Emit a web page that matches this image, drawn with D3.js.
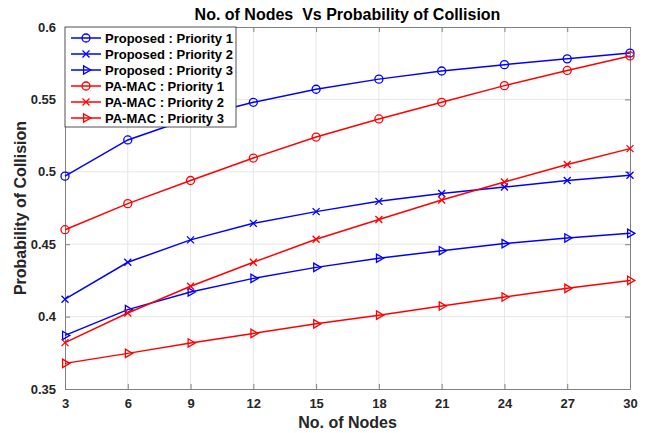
<!DOCTYPE html>
<html>
<head>
<meta charset="utf-8">
<script src="https://cdn.jsdelivr.net/npm/d3@7"></script>
<style>
  body { margin: 0; background: #fff; }
  svg { font-family: "Liberation Sans", Arial, sans-serif; }
  .tick text { font-size: 13px; font-weight: bold; fill: #262626; }
</style>
</head>
<body>
<svg width="653" height="433"></svg>
<script>
const nodes = [3, 6, 9, 12, 15, 18, 21, 24, 27, 30];
const yTicks = [0.35, 0.4, 0.45, 0.5, 0.55, 0.6];

const proposedP1 = [0.497, 0.522, 0.537, 0.548, 0.557, 0.564, 0.5696, 0.574, 0.578, 0.582];
const proposedP2 = [0.412, 0.4375, 0.453, 0.4644, 0.4725, 0.4796, 0.485, 0.4895, 0.494, 0.4976];
const proposedP3 = [0.387, 0.4048, 0.417, 0.4264, 0.434, 0.4403, 0.4455, 0.4504, 0.4543, 0.4575];
const pamacP1 = [0.460, 0.478, 0.494, 0.5095, 0.524, 0.5365, 0.548, 0.5595, 0.570, 0.580];
const pamacP2 = [0.382, 0.4025, 0.421, 0.4375, 0.4534, 0.467, 0.4805, 0.493, 0.505, 0.516];
const pamacP3 = [0.3677, 0.3746, 0.3818, 0.3884, 0.395, 0.401, 0.4073, 0.4135, 0.4195, 0.425];

const series = [
  { name: "Proposed : Priority 1", values: proposedP1, color: "#0000ff", marker: "circle" },
  { name: "Proposed : Priority 2", values: proposedP2, color: "#0000ff", marker: "cross" },
  { name: "Proposed : Priority 3", values: proposedP3, color: "#0000ff", marker: "triangle" },
  { name: "PA-MAC : Priority 1", values: pamacP1, color: "#ff0000", marker: "circle" },
  { name: "PA-MAC : Priority 2", values: pamacP2, color: "#ff0000", marker: "cross" },
  { name: "PA-MAC : Priority 3", values: pamacP3, color: "#ff0000", marker: "triangle" }
];

const svg = d3.select("svg"),
      margin = { top: 27, right: 23, bottom: 44, left: 65 },
      width = +svg.attr("width") - margin.left - margin.right,
      height = +svg.attr("height") - margin.top - margin.bottom;

const x = d3.scaleLinear().domain([3, 30]).range([0, width]);
const y = d3.scaleLinear().domain([0.35, 0.6]).range([height, 0]);

const g = svg.append("g").attr("transform", `translate(${margin.left},${margin.top})`);

// grid
g.append("g").selectAll("line").data(nodes.slice(1, -1)).join("line")
  .attr("x1", d => x(d)).attr("x2", d => x(d)).attr("y1", 0).attr("y2", height)
  .attr("stroke", "#e6e6e6").attr("stroke-width", 1);
g.append("g").selectAll("line").data(yTicks.slice(1, -1)).join("line")
  .attr("y1", d => y(d)).attr("y2", d => y(d)).attr("x1", 0).attr("x2", width)
  .attr("stroke", "#e6e6e6").attr("stroke-width", 1);

// axes (ticks inward, box)
const fmt = d => String(d);
g.append("g").attr("transform", `translate(0,${height})`)
  .call(d3.axisBottom(x).tickValues(nodes).tickSizeInner(-5).tickSizeOuter(0).tickPadding(10).tickFormat(fmt));
g.append("g")
  .call(d3.axisLeft(y).tickValues(yTicks).tickSizeInner(-5).tickSizeOuter(0).tickPadding(9).tickFormat(fmt));
g.append("g")
  .call(d3.axisTop(x).tickValues(nodes).tickSizeInner(-5).tickSizeOuter(0).tickFormat(""));
g.append("g").attr("transform", `translate(${width},0)`)
  .call(d3.axisRight(y).tickValues(yTicks).tickSizeInner(-5).tickSizeOuter(0).tickFormat(""));
g.selectAll(".domain").attr("stroke", "#808080").attr("stroke-width", 1);
g.selectAll(".tick line").attr("stroke", "#808080").attr("stroke-width", 1);

// lines
const line = d3.line().x((d, i) => x(nodes[i])).y(d => y(d));
const tri = d3.symbol().type(d3.symbolTriangle).size(30);

function drawMarker(sel, marker, color) {
  if (marker === "circle") {
    sel.append("circle").attr("r", 4).attr("fill", "none").attr("stroke", color).attr("stroke-width", 1.3);
  } else if (marker === "cross") {
    sel.append("path").attr("d", "M-3.5,-3.5L3.5,3.5M-3.5,3.5L3.5,-3.5")
      .attr("fill", "none").attr("stroke", color).attr("stroke-width", 1.3);
  } else {
    sel.append("path").attr("d", tri).attr("transform", "rotate(90)")
      .attr("fill", "none").attr("stroke", color).attr("stroke-width", 1.3);
  }
}

series.forEach(s => {
  g.append("path").datum(s.values).attr("d", line)
    .attr("fill", "none").attr("stroke", s.color).attr("stroke-width", 1.5);
  g.append("g").selectAll("g").data(s.values).join("g")
    .attr("transform", (d, i) => `translate(${x(nodes[i])},${y(d)})`)
    .each(function () { drawMarker(d3.select(this), s.marker, s.color); });
});

// legend
const legend = g.append("g");
legend.append("rect").attr("x", 0).attr("y", 0).attr("width", 171).attr("height", 100)
  .attr("fill", "#fff").attr("stroke", "#262626").attr("stroke-width", 0.8);
series.forEach((s, i) => {
  const ly = 11 + i * 16;
  const row = legend.append("g").attr("transform", `translate(0,${ly})`);
  row.append("line").attr("x1", 6).attr("x2", 36).attr("y1", 0).attr("y2", 0)
    .attr("stroke", s.color).attr("stroke-width", 1.5);
  drawMarker(row.append("g").attr("transform", "translate(21,0)"), s.marker, s.color);
  row.append("text").attr("x", 40).attr("y", 4.8)
    .attr("font-size", 13).attr("font-weight", "bold").attr("fill", "#000").text(s.name);
});

// title and labels
svg.append("text").attr("x", margin.left + width / 2).attr("y", 20)
  .attr("text-anchor", "middle").attr("font-size", 16).attr("font-weight", "bold")
  .attr("xml:space", "preserve").style("white-space", "pre")
  .text("No. of Nodes  Vs Probability of Collision");
svg.append("text").attr("x", margin.left + width / 2).attr("y", 428)
  .attr("text-anchor", "middle").attr("font-size", 16).attr("font-weight", "bold").attr("fill", "#262626")
  .text("No. of Nodes");
svg.append("text").attr("transform", "rotate(-90)")
  .attr("x", -(margin.top + height / 2)).attr("y", 26)
  .attr("text-anchor", "middle").attr("font-size", 16).attr("font-weight", "bold").attr("fill", "#262626")
  .text("Probability of Collision");
</script>
</body>
</html>
